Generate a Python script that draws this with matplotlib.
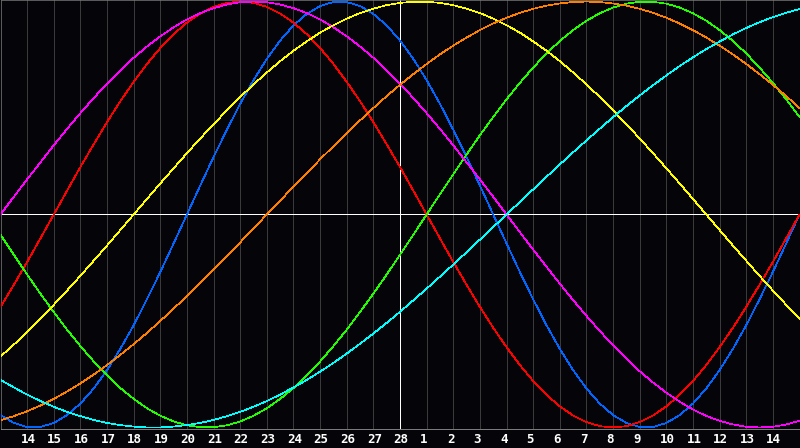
import matplotlib
matplotlib.use("Agg")
import matplotlib.pyplot as plt
from matplotlib.transforms import offset_copy

# day index 0..30 in half-day steps (0 = 13th, 15 = 28th, 30 = 15th next month)
days = [i / 2 for i in range(61)]
day_labels = [str(d) for d in range(14, 29)] + [str(d) for d in range(1, 15)]

# cycle values in percent
physical = [-94.2,-97.9,-99.8,-99.8,-97.9,-94.2,-88.8,-81.7,-73.1,-63.1,-52.0,-39.8,-27.0,-13.6,0.0,13.6,27.0,39.8,52.0,63.1,73.1,81.7,88.8,94.2,97.9,99.8,99.8,97.9,94.2,88.8,81.7,73.1,63.1,52.0,39.8,27.0,13.6,0.0,-13.6,-27.0,-39.8,-52.0,-63.1,-73.1,-81.7,-88.8,-94.2,-97.9,-99.8,-99.8,-97.9,-94.2,-88.8,-81.7,-73.1,-63.1,-52.0,-39.8,-27.0,-13.6,0.0]
emotional = [-43.4,-33.0,-22.3,-11.2,0.0,11.2,22.3,33.0,43.4,53.2,62.3,70.7,78.2,84.7,90.1,94.4,97.5,99.4,100.0,99.4,97.5,94.4,90.1,84.7,78.2,70.7,62.3,53.2,43.4,33.0,22.3,11.2,0.0,-11.2,-22.3,-33.0,-43.4,-53.2,-62.3,-70.7,-78.2,-84.7,-90.1,-94.4,-97.5,-99.4,-100.0,-99.4,-97.5,-94.4,-90.1,-84.7,-78.2,-70.7,-62.3,-53.2,-43.4,-33.0,-22.3,-11.2,0.0]
intellectual = [-9.5,-18.9,-28.2,-37.2,-45.8,-54.1,-61.8,-69.0,-75.6,-81.5,-86.6,-91.0,-94.5,-97.2,-99.0,-99.9,-99.9,-99.0,-97.2,-94.5,-91.0,-86.6,-81.5,-75.6,-69.0,-61.8,-54.1,-45.8,-37.2,-28.2,-18.9,-9.5,0.0,9.5,18.9,28.2,37.2,45.8,54.1,61.8,69.0,75.6,81.5,86.6,91.0,94.5,97.2,99.0,99.9,99.9,99.0,97.2,94.5,91.0,86.6,81.5,75.6,69.0,61.8,54.1,45.8]
intuitive = [0.0,8.3,16.5,24.5,32.5,40.2,47.6,54.7,61.4,67.7,73.6,78.9,83.7,87.9,91.6,94.6,96.9,98.6,99.7,100.0,99.7,98.6,96.9,94.6,91.6,87.9,83.7,78.9,73.6,67.7,61.4,54.7,47.6,40.2,32.5,24.5,16.5,8.3,0.0,-8.3,-16.5,-24.5,-32.5,-40.2,-47.6,-54.7,-61.4,-67.7,-73.6,-78.9,-83.7,-87.9,-91.6,-94.6,-96.9,-98.6,-99.7,-100.0,-99.7,-98.6,-96.9]
aesthetic = [-66.7,-61.1,-55.2,-48.9,-42.4,-35.7,-28.8,-21.7,-14.6,-7.3,0.0,7.3,14.6,21.7,28.8,35.7,42.4,48.9,55.2,61.1,66.7,72.0,76.9,81.3,85.4,88.9,92.0,94.6,96.7,98.3,99.4,99.9,99.9,99.4,98.3,96.7,94.6,92.0,88.9,85.4,81.3,76.9,72.0,66.7,61.1,55.2,48.9,42.4,35.7,28.8,21.7,14.6,7.3,0.0,-7.3,-14.6,-21.7,-28.8,-35.7,-42.4,-48.9]
awareness = [-96.6,-94.7,-92.4,-89.7,-86.6,-83.1,-79.3,-75.2,-70.7,-65.9,-60.9,-55.6,-50.0,-44.2,-38.3,-32.1,-25.9,-19.5,-13.1,-6.5,0.0,6.5,13.1,19.5,25.9,32.1,38.3,44.2,50.0,55.6,60.9,65.9,70.7,75.2,79.3,83.1,86.6,89.7,92.4,94.7,96.6,98.1,99.1,99.8,100.0,99.8,99.1,98.1,96.6,94.7,92.4,89.7,86.6,83.1,79.3,75.2,70.7,65.9,60.9,55.6,50.0]
spiritual = [-77.7,-81.2,-84.6,-87.6,-90.3,-92.7,-94.7,-96.5,-97.9,-98.9,-99.6,-100.0,-100.0,-99.6,-98.9,-97.9,-96.5,-94.7,-92.7,-90.3,-87.6,-84.6,-81.2,-77.7,-73.8,-69.7,-65.3,-60.7,-55.9,-50.9,-45.7,-40.3,-34.8,-29.2,-23.5,-17.7,-11.8,-5.9,0.0,5.9,11.8,17.7,23.5,29.2,34.8,40.3,45.7,50.9,55.9,60.7,65.3,69.7,73.8,77.7,81.2,84.6,87.6,90.3,92.7,94.7,96.5]

series = [physical, emotional, intellectual, intuitive, aesthetic, awareness, spiritual]
colors = ["#0066ff", "#ff0000", "#22ff00", "#ff00ff", "#ffff00", "#ff8000", "#00ffff"]

bg = "#050408"
lw = 0.5  # ~1px, aliased

fig = plt.figure(figsize=(8, 4.48), dpi=100, facecolor=bg)
ax = fig.add_axes([0.5 / 800, 19.5 / 448, 799 / 800, 428 / 448], facecolor=bg)
ax.set_xlim(0, 30)
ax.set_ylim(-100.5, 100.5)

for i in range(1, 30):
    ax.axvline(i, color="#3a3a3a", lw=lw, antialiased=False, zorder=1)
ax.axvline(15, color="white", lw=lw, antialiased=False, zorder=2)
ax.axhline(0, color="white", lw=lw, antialiased=False, zorder=2)

for vals, c in zip(series, colors):
    ax.plot(days, vals, color=c, lw=lw, antialiased=False, zorder=3)

ax.set_xticks([])
ax.set_yticks([])
for s in ["top", "left", "right"]:
    ax.spines[s].set_color("#808080")
    ax.spines[s].set_linewidth(lw)
ax.spines["bottom"].set_color("#b0b0b0")
ax.spines["bottom"].set_linewidth(lw)

# date labels sit just left of their gridline, below the plot
tr = offset_copy(ax.get_xaxis_transform(), fig=fig, x=-6.5, y=-11, units="dots")
for i, lab in enumerate(day_labels, start=1):
    ax.text(i, 0, lab, transform=tr, ha="left", va="center", color="white",
            family="DejaVu Sans Mono", weight="bold", fontsize=9)

fig.savefig("out.png", dpi=100, facecolor=fig.get_facecolor())
